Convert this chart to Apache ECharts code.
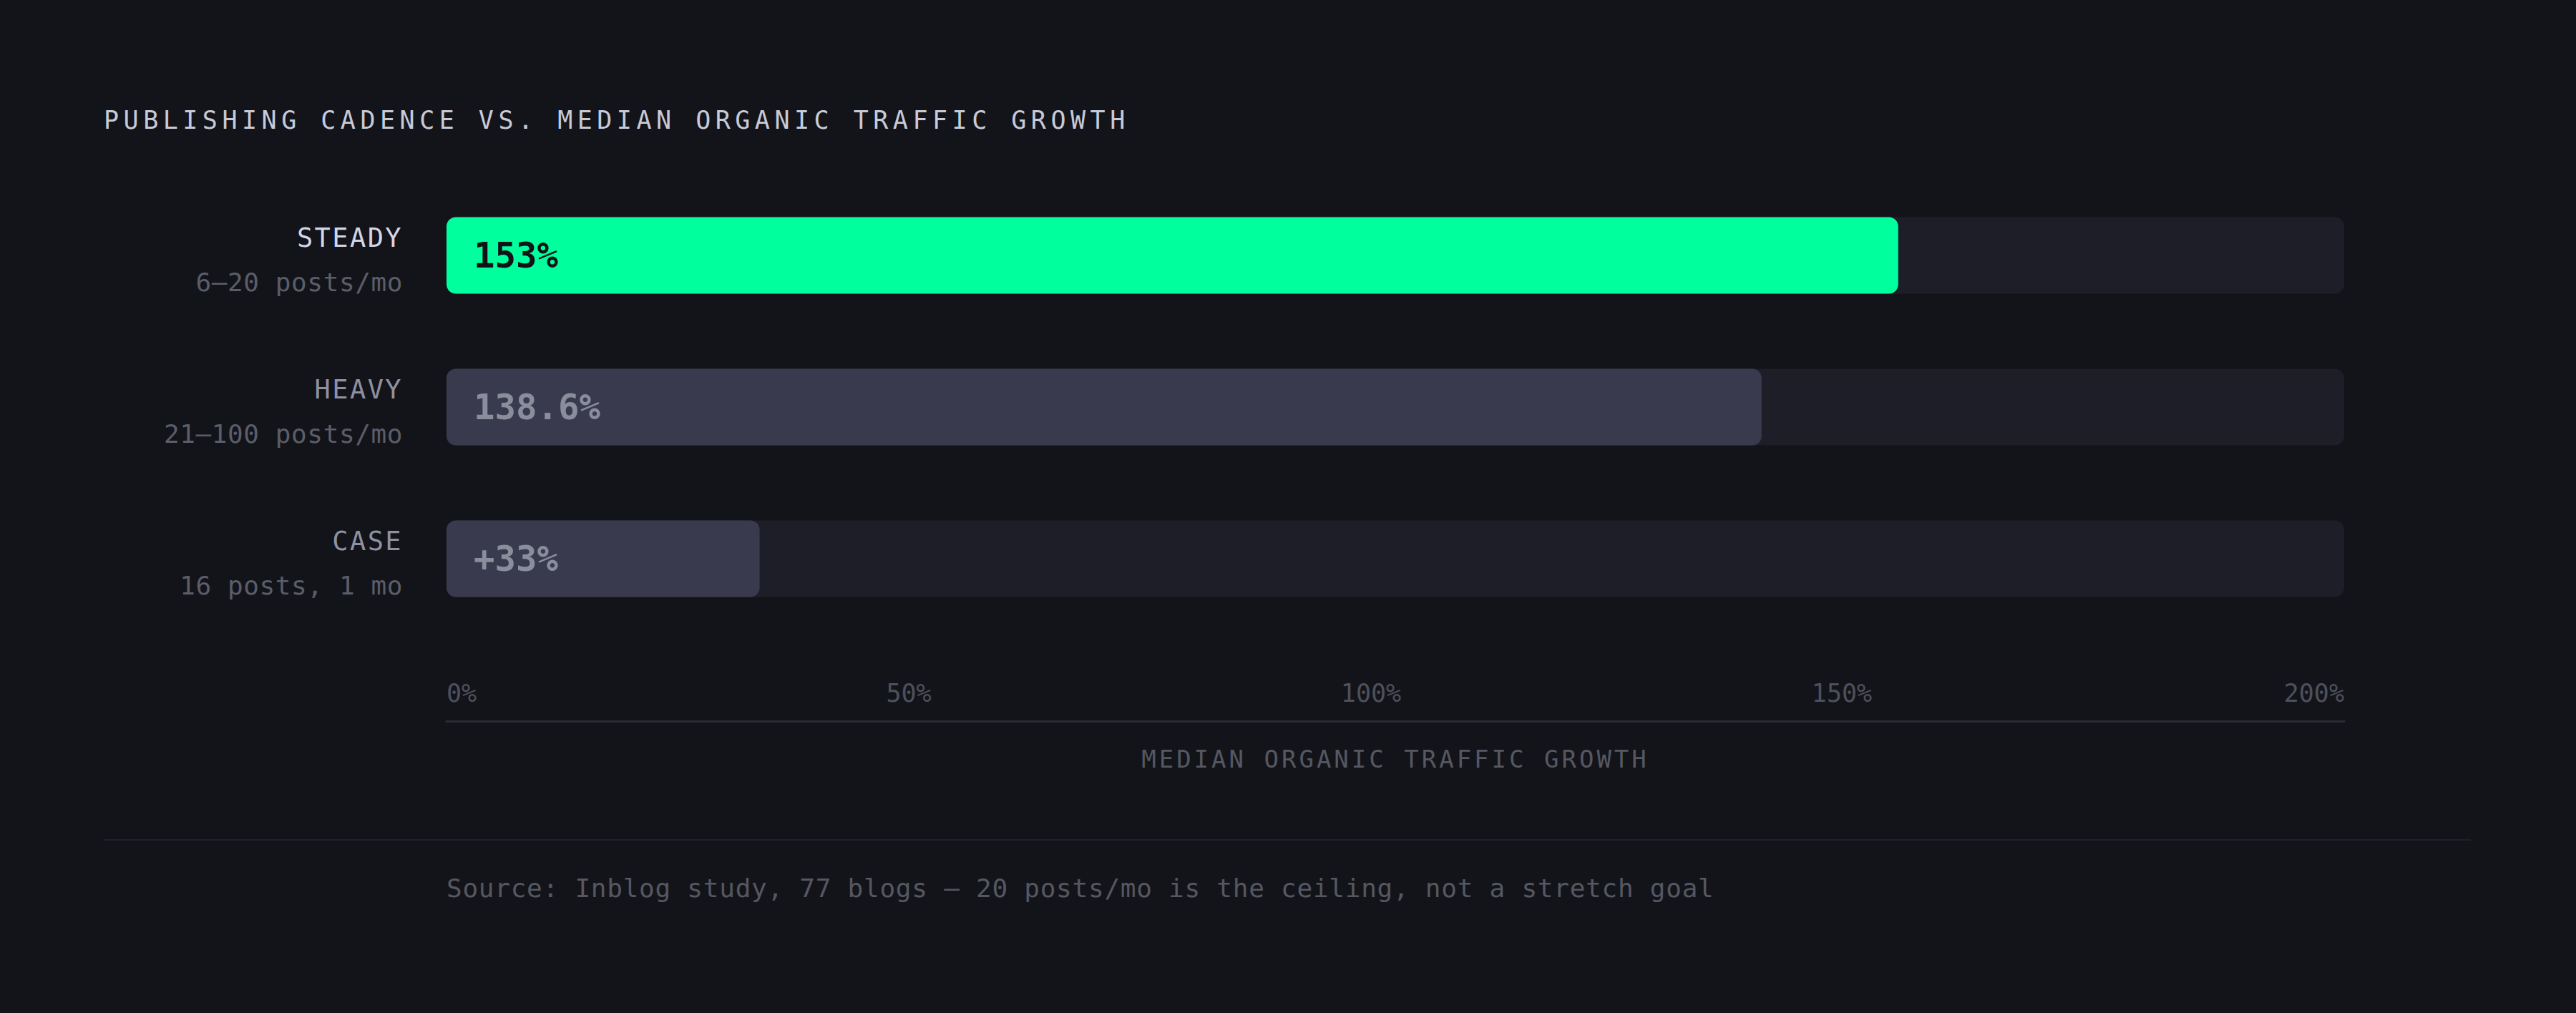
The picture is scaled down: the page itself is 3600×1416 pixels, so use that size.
<!DOCTYPE html>
<html>
<head>
<meta charset="utf-8">
<title>Publishing cadence vs. median organic traffic growth</title>
<script src="https://cdn.jsdelivr.net/npm/echarts/dist/echarts.min.js"></script>
<style>
  html, body { margin: 0; padding: 0; background: #131419; }
  #chart { width: 3600px; height: 1416px; }
</style>
</head>
<body>
<div id="chart"></div>
<script>
// data
var categories = ['STEADY', 'HEAVY', 'CASE'];
var subLabels = ['6–20 posts/mo', '21–100 posts/mo', '16 posts, 1 mo'];
var growth = [153, 138.6, 33];
var growthLabels = ['153%', '138.6%', '+33%'];
var tickValues = [0, 50, 100, 150, 200];
var tickLabels = ['0%', '50%', '100%', '150%', '200%'];
var highlight = 'STEADY';

var titleText = 'PUBLISHING CADENCE VS. MEDIAN ORGANIC TRAFFIC GROWTH';
var axisTitle = 'MEDIAN ORGANIC TRAFFIC GROWTH';
var sourceText = 'Source: Inblog study, 77 blogs — 20 posts/mo is the ceiling, not a stretch goal';

var mono = '"DejaVu Sans Mono", "Liberation Mono", monospace';

// letter spacing (svg text only)
function spacingFor(txt) {
    if (txt === titleText) return 6.5;
    if (txt === axisTitle) return 4;
    if (categories.indexOf(txt) >= 0) return 2.4;
    if (subLabels.indexOf(txt) >= 0) return 0.6;
    if (txt === sourceText) return 0.75;
    return 0;
}

var myChart = echarts.init(document.getElementById('chart'), null, { renderer: 'svg' });

var option = {
    backgroundColor: '#131419',
    animation: false,
    title: [{
        text: titleText,
        left: 145,
        top: 150,
        padding: 0,
        textStyle: { color: '#c7cad8', fontFamily: mono, fontSize: 35, fontWeight: 'normal' }
    }, {
        text: sourceText,
        left: 624,
        top: 1223,
        padding: 0,
        textStyle: { color: '#555762', fontFamily: mono, fontSize: 36, fontWeight: 'normal' }
    }],
    grid: {
        left: 624,
        right: 324,
        top: 251,
        height: 636,
        containLabel: false
    },
    xAxis: {
        type: 'value',
        min: 0,
        max: 200,
        interval: 50,
        offset: 121,
        name: axisTitle,
        nameLocation: 'middle',
        nameGap: 53,
        nameTextStyle: { color: '#555762', fontFamily: mono, fontSize: 34, verticalAlign: 'middle' },
        axisLine: { show: true, lineStyle: { color: '#2a2b36', width: 3 } },
        axisTick: { show: false },
        splitLine: { show: false },
        axisLabel: {
            inside: true,
            margin: 22,
            color: '#4e505c',
            fontFamily: mono,
            fontSize: 35,
            alignMinLabel: 'left',
            alignMaxLabel: 'right',
            formatter: function (v) {
                var i = tickValues.indexOf(v);
                var s = i >= 0 ? tickLabels[i] : v + '%';
                return '{t' + i + '|' + s + '}';
            },
            rich: {
                t0: { color: '#4e505c', fontFamily: mono, fontSize: 35 },
                t1: { color: '#4e505c', fontFamily: mono, fontSize: 35, padding: [0, 34, 0, 0] },
                t2: { color: '#4e505c', fontFamily: mono, fontSize: 35, padding: [0, 68, 0, 0] },
                t3: { color: '#4e505c', fontFamily: mono, fontSize: 35, padding: [0, 78, 0, 0] },
                t4: { color: '#4e505c', fontFamily: mono, fontSize: 35 }
            }
        }
    },
    yAxis: {
        type: 'category',
        inverse: true,
        data: categories,
        axisLine: { show: false },
        axisTick: { show: false },
        splitLine: { show: false },
        axisLabel: {
            margin: 61,
            align: 'right',
            formatter: function (v, i) {
                var key = v === highlight ? 'hi' : 'lo';
                return '{' + key + '|' + v + '}\n{sub|' + subLabels[i] + '}';
            },
            rich: {
                hi: { color: '#d3d6e4', fontFamily: mono, fontSize: 37, lineHeight: 75, align: 'right' },
                lo: { color: '#8e91a1', fontFamily: mono, fontSize: 37, lineHeight: 75, align: 'right' },
                sub: { color: '#5b5d69', fontFamily: mono, fontSize: 36, lineHeight: 50, align: 'right' }
            }
        }
    },
    series: [{
        type: 'bar',
        barWidth: 107,
        showBackground: true,
        backgroundStyle: { color: '#1e1e29', borderRadius: 13 },
        itemStyle: { borderRadius: 13 },
        label: {
            show: true,
            position: 'insideLeft',
            distance: 38,
            fontFamily: mono,
            fontSize: 49,
            fontWeight: 'bold',
            formatter: function (p) {
                return growthLabels[p.dataIndex];
            }
        },
        data: growth.map(function (v, i) {
            var on = categories[i] === highlight;
            return {
                value: v,
                itemStyle: { color: on ? '#00ff9d' : '#3a3a4e' },
                label: { color: on ? '#111318' : '#8a8d9c' }
            };
        })
    }],
    graphic: [{
        type: 'line',
        silent: true,
        shape: { x1: 145, y1: 1174, x2: 3453, y2: 1174 },
        style: { stroke: '#1f2029', lineWidth: 2 }
    }]
};

myChart.setOption(option);

function applySpacing() {
    var nodes = myChart.getDom().querySelectorAll('text');
    for (var k = 0; k < nodes.length; k++) {
        var s = spacingFor(nodes[k].textContent);
        if (s) nodes[k].style.letterSpacing = s + 'px';
    }
}
myChart.on('finished', applySpacing);
setTimeout(applySpacing, 50);
setTimeout(applySpacing, 300);

window.addEventListener('resize', function () {
    myChart.resize();
});
</script>
</body>
</html>
